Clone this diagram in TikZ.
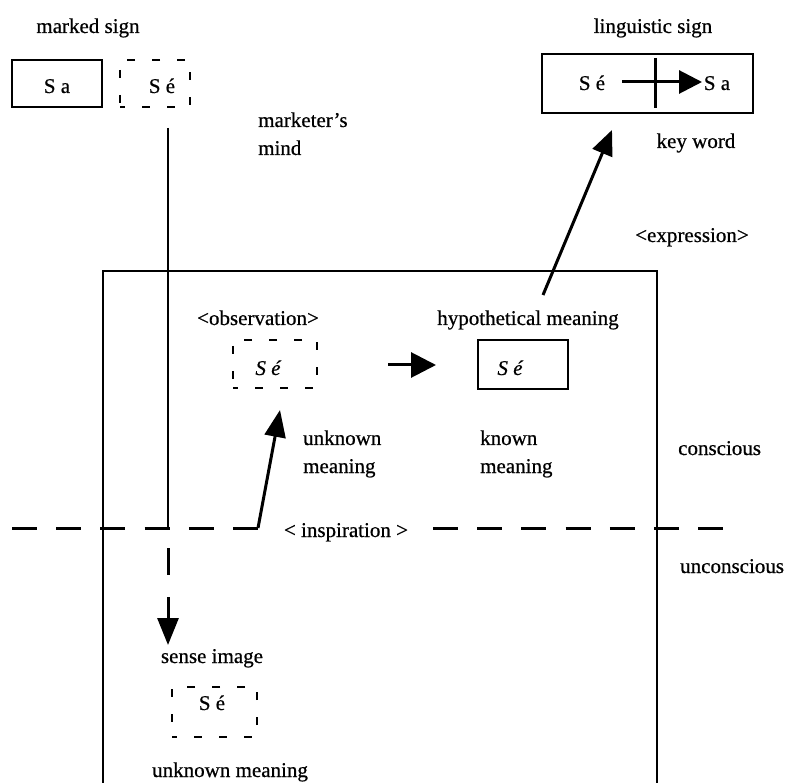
\documentclass[tikz,border=0pt]{standalone}
\usepackage{fontspec}
\setmainfont{Liberation Serif}[FakeBold=0.6]
\usetikzlibrary{arrows.meta}
\begin{document}
\begin{tikzpicture}[x=1pt,y=-1pt,
  lbl/.style={font=\fontsize{21}{25}\selectfont, inner sep=0pt, anchor=base},
  lbll/.style={lbl, anchor=base west},
  solidbox/.style={draw, line width=2.8pt, inner sep=0pt},
  dashbox/.style={draw, line width=2.6pt, inner sep=0pt, dash pattern=on 8pt off 17pt, dash phase=3pt},
  link/.style={line width=3pt},
  tip/.style={link, -{Triangle[length=25pt,width=21pt]}},
  divide/.style={line width=3pt, dash pattern=on 25pt off 19.2pt}]
\useasboundingbox (0,0) rectangle (790,783);

% boundary of the marketer's mind (open at the bottom)
\draw[line width=2.8pt] (103,783) -- (103,271) -- (657,271) -- (657,783);

% marked sign
\node[lbl] (markedT) at (88,33) {marked sign};
\node[solidbox, minimum width=90pt, minimum height=47pt] (sa) at (57,83.5) {};
\node[lbl] (saT) at (57,93) {S a};
\node[dashbox, minimum width=70pt, minimum height=47pt] (se) at (155,83.5) {};
\node[lbl] (seT) at (162,93) {S é};

\node[lbll] (mind1) at (258,127) {marketer’s};
\node[lbll] (mind2) at (258,155) {mind};

% linguistic sign
\node[lbl] (lingT) at (653,33) {linguistic sign};
\node[solidbox, minimum width=211pt, minimum height=59pt] (ling) at (647.5,83.5) {};
\node[lbl] (lingSe) at (592,90) {S é};
\node[lbl] (lingSa) at (717,90) {S a};
\coordinate (la) at (622,82);
\coordinate (lb) at (702,82);
\draw[tip, -{Triangle[length=23pt,width=23pt]}] (la) -- (lb);
\coordinate (bt) at (655,58);
\coordinate (bb) at (655,108);
\draw[link] (bt) -- (bb);
\node[lbl] (key) at (696,148) {key word};
\node[lbl] (expr) at (692,242) {<expression>};

% observation
\node[lbl] (obsT) at (258,325) {<observation>};
\node[dashbox, minimum width=84pt, minimum height=48pt] (obs) at (275,364) {};
\node[lbl, font=\fontsize{21}{25}\selectfont\itshape] (obsSe) at (268,375) {S é};
\node[lbll] (unk1) at (303,445) {unknown};
\node[lbll] (unk2) at (303,473) {meaning};

% hypothetical meaning
\node[lbl] (hypT) at (528,325) {hypothetical meaning};
\node[solidbox, minimum width=90pt, minimum height=49pt] (hyp) at (523,364.5) {};
\node[lbl, font=\fontsize{21}{25}\selectfont\itshape] (hypSe) at (510,375) {S é};
\node[lbll] (kn1) at (480,445) {known};
\node[lbll] (kn2) at (480,473) {meaning};

\coordinate (oh1) at (388,365);
\coordinate (oh2) at (436,365);
\draw[tip, -{Triangle[length=25pt,width=25pt]}] (oh1) -- (oh2);

% expression arrow towards the key word
\coordinate (ex1) at (543,295);
\coordinate (ex2) at (612,130);
\draw[tip] (ex1) -- (ex2);

% levels of consciousness
\node[lbll] (cons) at (678,455) {conscious};
\node[lbll] (uncons) at (680,573) {unconscious};
\node[lbl] (insp) at (346,537) {< inspiration >};

\coordinate (dl1) at (12,528);
\coordinate (dl2) at (258,528);
\coordinate (dr1) at (433,528);
\coordinate (dr2) at (725,528);
\draw[divide] (dl1) -- (dl2);
\draw[divide] (dr1) -- (dr2);

% descent from the marked sign into the unconscious
\coordinate (drop) at (168,128);
\coordinate (meet) at (168,529.5);
\draw[line width=2.6pt] (drop) -- (meet);
\coordinate (d1) at (168,548);
\coordinate (d2) at (168,575);
\draw[line width=3pt] (d1) -- (d2);
\coordinate (d3) at (168,597);
\coordinate (d4) at (168,645);
\draw[tip, -{Triangle[length=27pt,width=21pt]}] (d3) -- (d4);

% rise from inspiration to observation
\coordinate (up2) at (280,410);
\draw[tip, -{Triangle[length=27pt,width=21pt]}] (dl2) -- (up2);

% sense image
\node[lbl] (senseT) at (212,663) {sense image};
\node[dashbox, minimum width=85pt, minimum height=50pt] (sense) at (214.5,712) {};
\node[lbl] (senseSe) at (212,710) {S é};
\node[lbll] (unk3) at (152,777) {unknown meaning};
\end{tikzpicture}
\end{document}
